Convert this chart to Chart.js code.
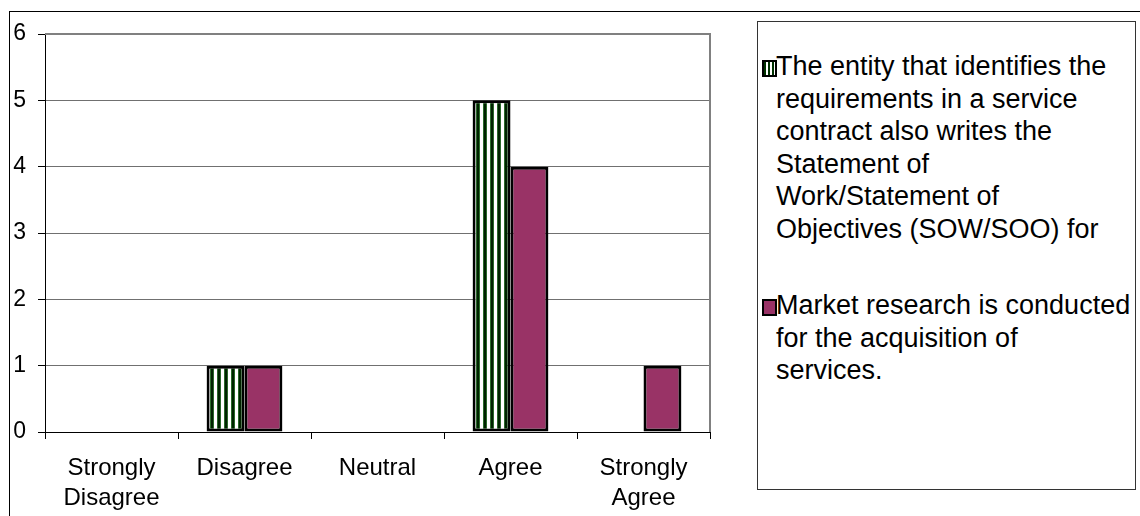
<!DOCTYPE html>
<html>
<head>
<meta charset="utf-8">
<script src="https://cdn.jsdelivr.net/npm/chart.js@4/dist/chart.umd.min.js"></script>
<style>
  html, body { margin: 0; padding: 0; background: #fff; }
  #wrap { position: relative; width: 1140px; height: 516px; overflow: hidden; font-family: "Liberation Sans", Arial, sans-serif; }
  #frame { position: absolute; left: 9px; top: 11px; width: 1200px; height: 600px; border-left: 1px solid #000; border-top: 1px solid #000; }
  canvas { position: absolute; left: 0; top: 0; }
  #legend { position: absolute; left: 757px; top: 21px; width: 379px; height: 469px; border: 1px solid #333; box-sizing: border-box; background: #fff; }
  .item { position: absolute; left: 0; font-size: 27px; line-height: 32.5px; color: #000; }
  .sw { position: absolute; left: 4px; width: 11px; height: 13px; border: 2px solid #000; }
  .txt { position: absolute; left: 18px; white-space: nowrap; }
</style>
</head>
<body>
<div id="wrap">
  <div id="frame"></div>
  <canvas id="c" width="1140" height="516"></canvas>
  <div id="legend"></div>
</div>
<script>
const categories = [["Strongly", "Disagree"], "Disagree", "Neutral", "Agree", ["Strongly", "Agree"]];
const seriesNames = [
  ["The entity that identifies the", "requirements in a service", "contract also writes the", "Statement of", "Work/Statement of", "Objectives (SOW/SOO) for"],
  ["Market research is conducted", "for the acquisition of", "services."]
];
const entityWrites = [0, 1, 0, 5, 0];
const marketResearch = [0, 1, 0, 4, 1];
const yTicks = [0, 1, 2, 3, 4, 5, 6];

const GREEN = '#003300';
const PURPLE = '#993366';

function stripePattern() {
  const p = document.createElement('canvas');
  p.width = 7; p.height = 7;
  const g = p.getContext('2d');
  g.fillStyle = '#ffffff'; g.fillRect(0, 0, 7, 7);
  g.fillStyle = '#2a6a2a'; g.fillRect(0, 0, 4, 7);
  g.fillStyle = '#002200'; g.fillRect(1, 0, 2, 7);
  return g.createPattern(p, 'repeat');
}
const ctx = document.getElementById('c').getContext('2d');
const pattern = stripePattern();

const plotFrame = {
  id: 'plotFrame',
  beforeDatasetsDraw(chart) {
    const a = chart.chartArea, c = chart.ctx;
    c.save();
    c.strokeStyle = '#808080'; c.lineWidth = 2;
    c.beginPath();
    c.moveTo(a.left, a.top); c.lineTo(a.right, a.top); c.lineTo(a.right, a.bottom);
    c.stroke();
    c.restore();
  }
};

new Chart(ctx, {
  type: 'bar',
  data: {
    labels: categories,
    datasets: [
      { label: seriesNames[0].join(' '), data: entityWrites, backgroundColor: pattern, borderColor: '#000', borderWidth: 3, borderSkipped: false },
      { label: seriesNames[1].join(' '), data: marketResearch, backgroundColor: PURPLE, borderColor: '#000', borderWidth: 3, borderSkipped: false }
    ]
  },
  plugins: [plotFrame],
  options: {
    responsive: false,
    animation: false,
    events: [],
    layout: { padding: { left: 10, top: 34, right: 430, bottom: 0 } },
    plugins: { legend: { display: false }, tooltip: { enabled: false } },
    datasets: { bar: { categoryPercentage: 0.57, barPercentage: 1.0 } },
    scales: {
      x: {
        offset: true,
        grid: { offset: true, drawOnChartArea: false, drawTicks: true, tickLength: 7, color: '#000', lineWidth: 1 },
        border: { display: true, color: '#000', width: 1 },
        ticks: { color: '#000', font: { family: 'Liberation Sans', size: 24, lineHeight: 1.25 }, padding: 14, maxRotation: 0, autoSkip: false },
        afterFit(s) { s.height = 84; }
      },
      y: {
        min: 0, max: 6,
        afterBuildTicks(s) { s.ticks = yTicks.map(v => ({ value: v })); },
        grid: { color: '#707070', lineWidth: 1, drawTicks: true, tickLength: 7, tickColor: '#000' },
        border: { display: true, color: '#000', width: 1 },
        ticks: { color: '#000', font: { family: 'Liberation Sans', size: 23 }, padding: 12 },
        afterFit(s) { s.width = 35; }
      }
    }
  }
});

// HTML legend built from the series names
const legend = document.getElementById('legend');
const tops = [28, 267];
const swatches = [
  'background: repeating-linear-gradient(90deg, ' + GREEN + ' 0 2px, #ffffff 2px 4px);',
  'background:' + PURPLE + ';'
];
seriesNames.forEach((lines, i) => {
  const it = document.createElement('div');
  it.className = 'item';
  it.style.top = tops[i] + 'px';
  const sw = document.createElement('div');
  sw.className = 'sw';
  sw.style.cssText = swatches[i] + 'top:10px;';
  const tx = document.createElement('div');
  tx.className = 'txt';
  tx.innerHTML = lines.join('<br>');
  it.appendChild(sw); it.appendChild(tx);
  legend.appendChild(it);
});
</script>
</body>
</html>
